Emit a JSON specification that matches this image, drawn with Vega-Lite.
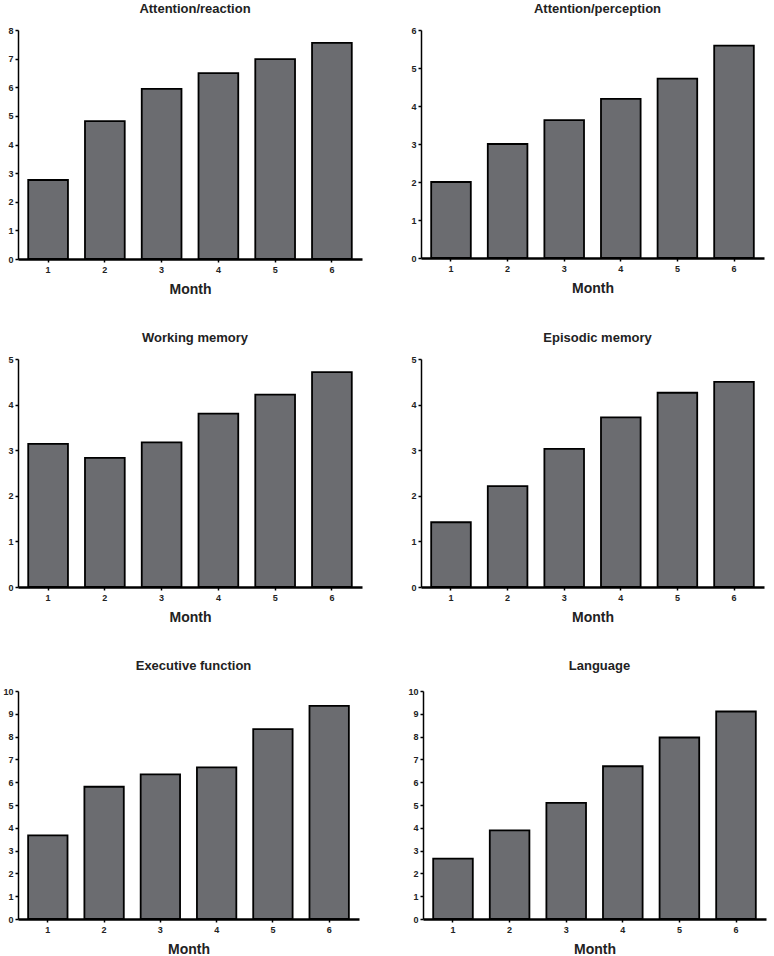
{
  "$schema": "https://vega.github.io/schema/vega-lite/v6.json",
  "background": "white",
  "padding": {"left": 2, "top": 3, "right": 2, "bottom": 0},
  "datasets": {
    "scores": [
      {"domain": "Attention/reaction", "month": 1, "score": 2.76},
      {"domain": "Attention/reaction", "month": 2, "score": 4.82},
      {"domain": "Attention/reaction", "month": 3, "score": 5.94},
      {"domain": "Attention/reaction", "month": 4, "score": 6.49},
      {"domain": "Attention/reaction", "month": 5, "score": 6.98},
      {"domain": "Attention/reaction", "month": 6, "score": 7.55},
      {"domain": "Attention/perception", "month": 1, "score": 2.0},
      {"domain": "Attention/perception", "month": 2, "score": 3.0},
      {"domain": "Attention/perception", "month": 3, "score": 3.63},
      {"domain": "Attention/perception", "month": 4, "score": 4.19},
      {"domain": "Attention/perception", "month": 5, "score": 4.72},
      {"domain": "Attention/perception", "month": 6, "score": 5.59},
      {"domain": "Working memory", "month": 1, "score": 3.14},
      {"domain": "Working memory", "month": 2, "score": 2.83},
      {"domain": "Working memory", "month": 3, "score": 3.17},
      {"domain": "Working memory", "month": 4, "score": 3.8},
      {"domain": "Working memory", "month": 5, "score": 4.22},
      {"domain": "Working memory", "month": 6, "score": 4.71},
      {"domain": "Episodic memory", "month": 1, "score": 1.42},
      {"domain": "Episodic memory", "month": 2, "score": 2.21},
      {"domain": "Episodic memory", "month": 3, "score": 3.03},
      {"domain": "Episodic memory", "month": 4, "score": 3.72},
      {"domain": "Episodic memory", "month": 5, "score": 4.26},
      {"domain": "Episodic memory", "month": 6, "score": 4.5},
      {"domain": "Executive function", "month": 1, "score": 3.67},
      {"domain": "Executive function", "month": 2, "score": 5.8},
      {"domain": "Executive function", "month": 3, "score": 6.34},
      {"domain": "Executive function", "month": 4, "score": 6.65},
      {"domain": "Executive function", "month": 5, "score": 8.33},
      {"domain": "Executive function", "month": 6, "score": 9.35},
      {"domain": "Language", "month": 1, "score": 2.65},
      {"domain": "Language", "month": 2, "score": 3.89},
      {"domain": "Language", "month": 3, "score": 5.09},
      {"domain": "Language", "month": 4, "score": 6.7},
      {"domain": "Language", "month": 5, "score": 7.96},
      {"domain": "Language", "month": 6, "score": 9.1}
    ]
  },
  "vconcat": [
    {
      "hconcat": [
        {
          "data": {"name": "scores"},
          "width": 344, "height": 229,
          "title": "Attention/reaction",
          "transform": [{"filter": "datum.domain === 'Attention/reaction'"}],
          "mark": {"type": "bar", "fill": "#6b6c70", "stroke": "#000", "strokeWidth": 1.8},
          "encoding": {
            "x": {"field": "month", "type": "ordinal", "title": "Month", "scale": {"paddingInner": 0.3, "paddingOuter": 0.18}},
            "y": {"field": "score", "type": "quantitative", "title": null, "scale": {"domain": [0, 8], "nice": false}, "axis": {"values": [0, 1, 2, 3, 4, 5, 6, 7, 8]}}
          }
        },
        {
          "data": {"name": "scores"},
          "width": 343, "height": 228,
          "title": "Attention/perception",
          "transform": [{"filter": "datum.domain === 'Attention/perception'"}],
          "mark": {"type": "bar", "fill": "#6b6c70", "stroke": "#000", "strokeWidth": 1.8},
          "encoding": {
            "x": {"field": "month", "type": "ordinal", "title": "Month", "scale": {"paddingInner": 0.3, "paddingOuter": 0.18}},
            "y": {"field": "score", "type": "quantitative", "title": null, "scale": {"domain": [0, 6], "nice": false}, "axis": {"values": [0, 1, 2, 3, 4, 5, 6]}}
          }
        }
      ]
    },
    {
      "hconcat": [
        {
          "data": {"name": "scores"},
          "width": 344, "height": 228,
          "title": "Working memory",
          "transform": [{"filter": "datum.domain === 'Working memory'"}],
          "mark": {"type": "bar", "fill": "#6b6c70", "stroke": "#000", "strokeWidth": 1.8},
          "encoding": {
            "x": {"field": "month", "type": "ordinal", "title": "Month", "scale": {"paddingInner": 0.3, "paddingOuter": 0.18}},
            "y": {"field": "score", "type": "quantitative", "title": null, "scale": {"domain": [0, 5], "nice": false}, "axis": {"values": [0, 1, 2, 3, 4, 5]}}
          }
        },
        {
          "data": {"name": "scores"},
          "width": 343, "height": 228,
          "title": "Episodic memory",
          "transform": [{"filter": "datum.domain === 'Episodic memory'"}],
          "mark": {"type": "bar", "fill": "#6b6c70", "stroke": "#000", "strokeWidth": 1.8},
          "encoding": {
            "x": {"field": "month", "type": "ordinal", "title": "Month", "scale": {"paddingInner": 0.3, "paddingOuter": 0.18}},
            "y": {"field": "score", "type": "quantitative", "title": null, "scale": {"domain": [0, 5], "nice": false}, "axis": {"values": [0, 1, 2, 3, 4, 5]}}
          }
        }
      ]
    },
    {
      "hconcat": [
        {
          "data": {"name": "scores"},
          "width": 341, "height": 228,
          "title": {"text": "Executive function", "offset": 14},
          "transform": [{"filter": "datum.domain === 'Executive function'"}],
          "mark": {"type": "bar", "fill": "#6b6c70", "stroke": "#000", "strokeWidth": 1.8},
          "encoding": {
            "x": {"field": "month", "type": "ordinal", "title": "Month", "scale": {"paddingInner": 0.3, "paddingOuter": 0.18}},
            "y": {"field": "score", "type": "quantitative", "title": null, "scale": {"domain": [0, 10], "nice": false}, "axis": {"values": [0, 1, 2, 3, 4, 5, 6, 7, 8, 9, 10]}}
          }
        },
        {
          "data": {"name": "scores"},
          "width": 343, "height": 228,
          "title": {"text": "Language", "offset": 14},
          "transform": [{"filter": "datum.domain === 'Language'"}],
          "mark": {"type": "bar", "fill": "#6b6c70", "stroke": "#000", "strokeWidth": 1.8},
          "encoding": {
            "x": {"field": "month", "type": "ordinal", "title": "Month", "scale": {"paddingInner": 0.3, "paddingOuter": 0.18}},
            "y": {"field": "score", "type": "quantitative", "title": null, "scale": {"domain": [0, 10], "nice": false}, "axis": {"values": [0, 1, 2, 3, 4, 5, 6, 7, 8, 9, 10]}}
          }
        }
      ]
    }
  ],
  "spacing": 36,
  "config": {
    "concat": {"spacing": 48},
    "view": {"stroke": null},
    "font": "Liberation Sans",
    "title": {"font": "Liberation Sans", "fontSize": 13, "fontWeight": "bold", "color": "#222", "offset": 10, "dx": 5},
    "axis": {
      "grid": false,
      "domainColor": "#000",
      "tickColor": "#000",
      "tickSize": 3,
      "labelFont": "Liberation Sans",
      "labelFontSize": 9,
      "labelFontWeight": "bold",
      "labelColor": "#222",
      "labelPadding": 2
    },
    "axisX": {
      "domainWidth": 2.5,
      "tickWidth": 1.5,
      "labelAngle": 0,
      "labelPadding": 3,
      "titleFont": "Liberation Sans",
      "titleFontSize": 14,
      "titleFontWeight": "bold",
      "titleColor": "#222",
      "titlePadding": 8
    },
    "axisY": {
      "domainWidth": 1.5,
      "tickWidth": 1.5
    }
  }
}
